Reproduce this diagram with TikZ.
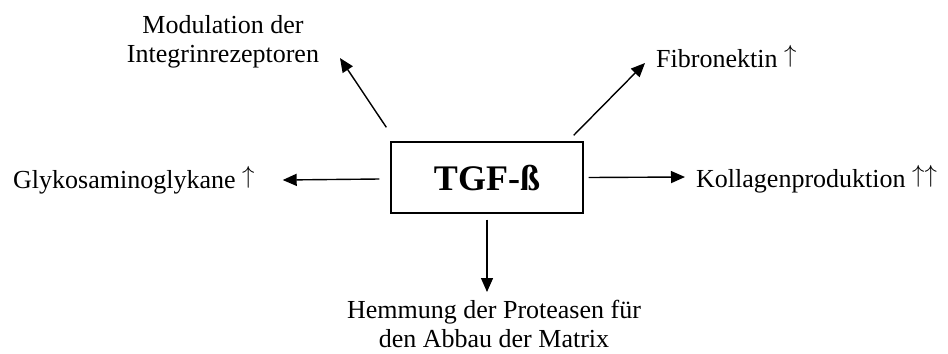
\documentclass[tikz,border=0pt]{standalone}
\usepackage{fontspec}
\setmainfont{Liberation Serif}
\usetikzlibrary{arrows.meta,calc}
\newcommand\myup{\raisebox{4.5bp}{\fontsize{23bp}{23bp}\selectfont$\uparrow$}}
\begin{document}
\begin{tikzpicture}[x=1bp,y=-1bp,
  lbl/.style={inner sep=0pt,font=\fontsize{26bp}{29bp}\selectfont},
  arr/.style={line width=1.4bp,-{Triangle[length=14bp,width=12bp]}}]
\useasboundingbox (0,0) rectangle (948,353);
\node[draw,line width=1.4bp,minimum width=192bp,minimum height=71bp,inner sep=0pt,
  font=\fontsize{36bp}{40bp}\selectfont\bfseries] (tgf) at (487,177.5) {TGF-ß};
\node[lbl,anchor=base west] (glyko) at (13,188) {Glykosaminoglykane \myup};
\node[lbl,anchor=base west] (kollagen) at (696,187) {Kollagenproduktion \myup\myup};
\node[lbl,anchor=base west] (fibro) at (656,67) {Fibronektin \myup};
\node[lbl,anchor=north,align=center] (modul) at (223,15) {Modulation der\\Integrinrezeptoren};
\node[lbl,anchor=north,align=center] (hemmung) at (494,300) {Hemmung der Proteasen für\\den Abbau der Matrix};
\draw[arr] ($(tgf.west)+(-11,1.5)$) -- ($(glyko.base east)+(28,-8)$);
\draw[arr] ($(tgf.east)+(5,0)$) -- ($(kollagen.base west)+(-11,-10)$);
\draw[arr] ($(tgf.south)+(0,6)$) -- ($(tgf.south |- hemmung.north)+(0,-8)$);
\draw[arr] ($(tgf.north west)+(-4,-14)$) -- ($(modul.south)+(117,-10)$);
\draw[arr] ($(tgf.north east)+(-10,-6)$) -- ($(fibro.base west)+(-11,-4)$);
\end{tikzpicture}
\end{document}
